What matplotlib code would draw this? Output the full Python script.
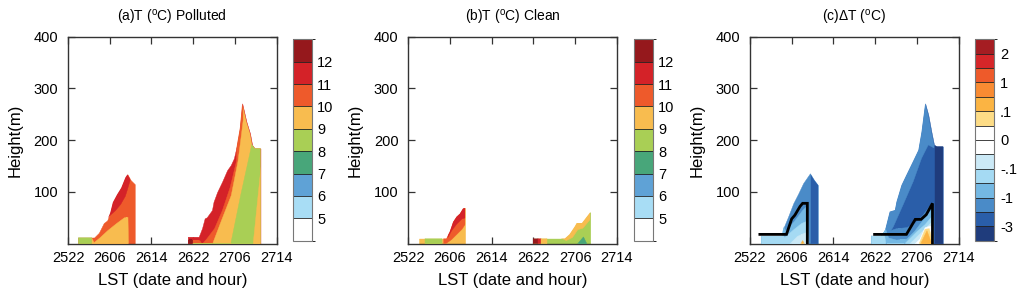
import numpy as np
import matplotlib
matplotlib.use("Agg")
import matplotlib.pyplot as plt
from matplotlib.colors import ListedColormap, BoundaryNorm
from matplotlib.cm import ScalarMappable

plt.rcParams['font.family'] = ['Liberation Sans', 'DejaVu Sans']
plt.rcParams['mathtext.fontset'] = 'custom'
plt.rcParams['mathtext.rm'] = 'Liberation Sans'
plt.rcParams['mathtext.it'] = 'Liberation Sans:italic'

# ---------------- axes / labels ----------------
tick_hours = [0, 8, 16, 24, 32, 40]          # hours after 25th 22 LST
tick_labels = ['2522', '2606', '2614', '2622', '2706', '2714']
height_ticks = [100, 200, 300, 400]
titles = [r'(a)T ($^{\rm o}$C) Polluted', r'(b)T ($^{\rm o}$C) Clean', r'(c)$\Delta$T ($^{\rm o}$C)']

# ---------------- colour scales ----------------
T_levels = [5, 6, 7, 8, 9, 10, 11, 12]
T_labels = ['5', '6', '7', '8', '9', '10', '11', '12']
T_colors = ['#ffffff', '#a8ddf5', '#5fa2d6', '#48a67a', '#a9cf55',
            '#f8bc4f', '#ee5a2b', '#d42228', '#95181c']

dT_levels = [-3, -2, -1, -0.5, -0.1, -0.05, 0, 0.05, 0.1, 0.5, 1, 1.5, 2]
dT_labels = ['-3', '', '-1', '', '-.1', '', '0', '', '.1', '', '1', '', '2']
dT_colors = ['#1f3c7c', '#2a5ea9', '#4a8bc8', '#74b8e3', '#a5daf3', '#cbe9f6',
             '#ffffff', '#ffffff', '#fddc86', '#fbb443', '#f98b32', '#ee5a2a',
             '#d62629', '#a51d22']

# ---------------- panel (a) polluted ----------------
a1_t = [1.9, 5.0, 5.9, 6.85, 7.5, 8.1, 8.6, 9.4, 10.2, 11.0, 11.4, 12.0, 12.8]
a1_top = [12, 12, 21, 40, 45, 60, 80, 95, 108, 128, 134, 123, 115]
a1_base = 10.5
a1_layers = [
    (11.5, [7.6, 8.1, 9.1, 10.1, 11.0, 11.4, 11.9], [50, 55, 64, 76, 92, 105, 122], None),
    (9.5, [4.4, 4.9, 6.0, 7.5, 9.1, 10.7, 11.4, 11.5], None, [13, 3, 12, 26, 39, 51, 52, 0]),
    (8.5, [1.9, 4.4, 4.45], None, [20, 20, 0]),
]

a2_t = [22.95, 25.06, 25.7, 26.2, 26.6, 27.6, 27.9, 28.6, 29.55, 30.5, 31.2, 31.8,
        32.4, 32.95, 33.4, 33.7, 34.2, 34.9, 35.3, 35.8, 36.9]
a2_top = [13.5, 13.5, 30, 49, 51, 65, 81, 100, 120, 142, 152, 165,
          191, 223, 271, 258, 236, 213, 191, 184, 184]
a2_base = 11.5
a2_layers = [
    (10.5, [22.95, 23.8, 25.2, 25.6, 26.5, 28.0, 29.5, 31.0, 32.2, 32.7, 36.9], None,
     [0, 7, 7, 0, 10, 30, 65, 110, 160, 400, 400]),
    (9.5, [22.95, 27.6, 29.3, 31.2, 32.5, 33.2, 33.5, 33.8, 36.9], None,
     [0, 0, 45, 94, 160, 215, 240, 400, 400]),
    (8.5, [22.95, 31.1, 33.0, 35.2, 36.9], None, [0, 0, 94, 195, 400]),
    (9.5, [35.4, 36.9], None, [0, 149]),
    (12.5, [22.95, 23.8, 23.85], None, [8, 8, 0]),
]

# ---------------- panel (b) clean ----------------
b1_t = [2.05, 7.3, 7.95, 8.3, 8.6, 9.25, 9.9, 10.5, 10.9]
b1_top = [10, 10, 23, 33, 42, 52, 58, 68, 69]
b1_base = 9.5
b1_layers = [
    (8.5, [3.2, 6.5], None, [20, 20]),
    (10.5, [6.8, 7.2, 8.3, 9.3, 10.3, 10.95], [0, 0, 8, 18, 28, 38], None),
    (11.5, [7.6, 8.3, 9.3, 10.3, 10.95], [12, 25, 38, 48, 50], None),
]

b2_t = [23.9, 30.0, 30.9, 31.9, 32.3, 33.3, 34.9]
b2_top = [10, 10, 18, 33, 40, 40, 61]
b2_base = 8.5
b2_layers = [
    (12.5, [23.9, 24.9], None, None),
    (11.5, [24.9, 25.5], None, None),
    (9.5, [25.5, 26.6], None, None),
    (9.5, [29.3, 30.3, 31.5, 32.5, 33.5, 34.9], [11, 6, 12, 27, 30, 47], None),
    (7.5, [32.3, 33.5, 34.2], None, [0, 14, 0]),
]

# ---------------- panel (c) difference ----------------
c1_t = [2.1, 6.1, 6.4, 7.3, 8.3, 9.26, 10.2, 11.5, 12.3, 13.05]
c1_top = [15, 15, 30, 52, 78, 97, 117, 136, 123, 113]
c1_base = -1.5
c1_layers = [
    (-0.75, [2.1, 6.0, 6.8, 8.5, 10.0, 11.0, 11.05], None, [40, 40, 25, 45, 65, 75, 0]),
    (-0.3, [2.1, 5.8, 6.5, 8.3, 9.8, 11.0, 11.05], None, [40, 40, 12, 28, 40, 45, 0]),
    (-0.075, [7.5, 9.0, 10.5, 11.0, 11.05], None, [0, 15, 22, 20, 0]),
    (0.3, [9.6, 10.0, 10.4], None, [0, 7, 0]),
    (-2.5, [11.7, 13.1], None, None),
]

c2_t = [23.2, 25.2, 25.9, 26.8, 27.8, 28.1, 29.05, 30.0, 31.3, 32.3, 32.9, 33.6,
        34.2, 34.8, 35.3, 35.8, 37.0]
c2_top = [15, 15, 26, 62, 65, 81, 113, 133, 160, 181, 216, 271,
          249, 216, 191, 188, 188]
c2_base = -2.5
c2_layers = [
    (-1.5, [23.2, 25.5, 27.5, 29.4, 31.3, 32.9, 34.2, 35.3],
     [0, 0, 33, 76, 120, 165, 191, 185], None),
    (-1.5, [23.2, 25.5, 26.5, 28.0, 30.0, 31.5, 33.0, 34.5, 35.1, 35.15], None,
     [30, 30, 25, 30, 32, 40, 55, 75, 80, 0]),
    (-0.75, [23.2, 25.9, 26.5, 28.0, 30.0, 31.5, 33.0, 34.3, 35.0, 35.1], None,
     [30, 30, 12, 8, 10, 25, 45, 62, 70, 0]),
    (-0.3, [23.2, 25.5, 26.0, 29.5, 30.5, 32.0, 33.5, 34.5, 35.0, 35.05], None,
     [30, 30, 0, 0, 10, 25, 38, 50, 55, 0]),
    (-0.075, [30.5, 32.0, 33.5, 34.5, 35.0, 35.05], None, [0, 15, 30, 40, 45, 0]),
    (0.0, [31.5, 32.5, 33.5, 34.5, 35.0, 35.05], None, [0, 10, 32, 35, 30, 0]),
    (0.075, [32.3, 33.5, 34.3, 35.0], None, [0, 29, 30, 0]),
    (0.3, [32.6, 33.85, 34.8], None, [0, 26, 0]),
    (-3.5, [35.5, 37.0], None, None),
]

# boundary-layer height line in (c)
c_line1_t = [1.9, 7.0, 8.0, 8.6, 9.6, 10.1, 11.0, 11.0]
c_line1_z = [18, 18, 48, 55, 72, 78, 78, 0]
c_line2_t = [23.9, 30.0, 31.7, 32.8, 33.8, 35.0, 35.0]
c_line2_z = [18, 18, 47, 47, 56, 78, 0]


def make_scale(levels, colors):
    cmap = ListedColormap(colors)
    step = 1.0
    bounds = [levels[0] - step] + list(levels) + [levels[-1] + step]
    norm = BoundaryNorm(bounds, cmap.N)
    return cmap, norm, bounds


def draw_blob(ax, t_top, z_top, base_value, layers, cmap, norm):
    base = ax.fill_between(t_top, 0, z_top, facecolor=cmap(norm(base_value)),
                           edgecolor=cmap(norm(base_value)), lw=0.3, zorder=2)
    clip = base.get_paths()[0]
    for value, t, lower, upper in layers:
        n = len(t)
        lo = np.zeros(n) if lower is None else np.asarray(lower, float)
        hi = np.full(n, 1000.0) if upper is None else np.asarray(upper, float)
        col = cmap(norm(value))
        coll = ax.fill_between(t, lo, hi, facecolor=col, edgecolor=col, lw=0.3, zorder=3)
        coll.set_clip_path(clip, ax.transData)


def style_axes(ax, title):
    ax.set_xlim(0, 40)
    ax.set_ylim(0, 400)
    ax.set_xticks(tick_hours)
    ax.set_xticklabels(tick_labels)
    ax.set_yticks(height_ticks)
    ax.tick_params(direction='in', length=5, width=0.9, top=True, right=True,
                   labelsize=10.5, color='#333333', pad=5)
    ax.tick_params(axis='y', pad=7)
    for s in ax.spines.values():
        s.set_linewidth(1.0)
        s.set_edgecolor('#333333')
    ax.set_xlabel('LST (date and hour)', fontsize=12, labelpad=6)
    ax.set_ylabel('Height(m)', fontsize=12, labelpad=8)
    ax.set_title(title, fontsize=10, pad=11)


def add_cbar(fig, rect, levels, colors, labels):
    cmap, norm, bounds = make_scale(levels, colors)
    cax = fig.add_axes(rect)
    cb = fig.colorbar(ScalarMappable(norm=norm, cmap=cmap), cax=cax,
                      boundaries=bounds, spacing='uniform', ticks=levels,
                      drawedges=True)
    cb.set_ticklabels(labels)
    cb.ax.tick_params(length=0, labelsize=10.5, pad=4)
    cb.outline.set_edgecolor('#777777')
    cb.outline.set_linewidth(0.8)
    cb.dividers.set_color('#222222')
    cb.dividers.set_linewidth(0.6)


fig = plt.figure(figsize=(10.23, 2.95), dpi=100)
ax_w, ax_h, ax_b = 0.2039, 0.7017, 0.1739
axa = fig.add_axes([0.0665, ax_b, ax_w, ax_h])
axb = fig.add_axes([0.3991, ax_b, ax_w, ax_h])
axc = fig.add_axes([0.7331, ax_b, ax_w, ax_h])

Tcmap, Tnorm, _ = make_scale(T_levels, T_colors)
dcmap, dnorm, _ = make_scale(dT_levels, dT_colors)

draw_blob(axa, a1_t, a1_top, a1_base, a1_layers, Tcmap, Tnorm)
draw_blob(axa, a2_t, a2_top, a2_base, a2_layers, Tcmap, Tnorm)
draw_blob(axb, b1_t, b1_top, b1_base, b1_layers, Tcmap, Tnorm)
draw_blob(axb, b2_t, b2_top, b2_base, b2_layers, Tcmap, Tnorm)
draw_blob(axc, c1_t, c1_top, c1_base, c1_layers, dcmap, dnorm)
draw_blob(axc, c2_t, c2_top, c2_base, c2_layers, dcmap, dnorm)
axc.plot(c_line1_t, c_line1_z, color='black', lw=2.0, zorder=5, solid_joinstyle='miter')
axc.plot(c_line2_t, c_line2_z, color='black', lw=2.0, zorder=5, solid_joinstyle='miter')

for ax, title in zip([axa, axb, axc], titles):
    style_axes(ax, title)

cb_b, cb_h = 0.1841, 0.6827
add_cbar(fig, [0.2861, cb_b, 0.0186, cb_h], T_levels, T_colors, T_labels)
add_cbar(fig, [0.6197, cb_b, 0.0183, cb_h], T_levels, T_colors, T_labels)
add_cbar(fig, [0.9531, cb_b, 0.0189, cb_h], dT_levels, dT_colors, dT_labels)

fig.savefig('out.png', dpi=100)
